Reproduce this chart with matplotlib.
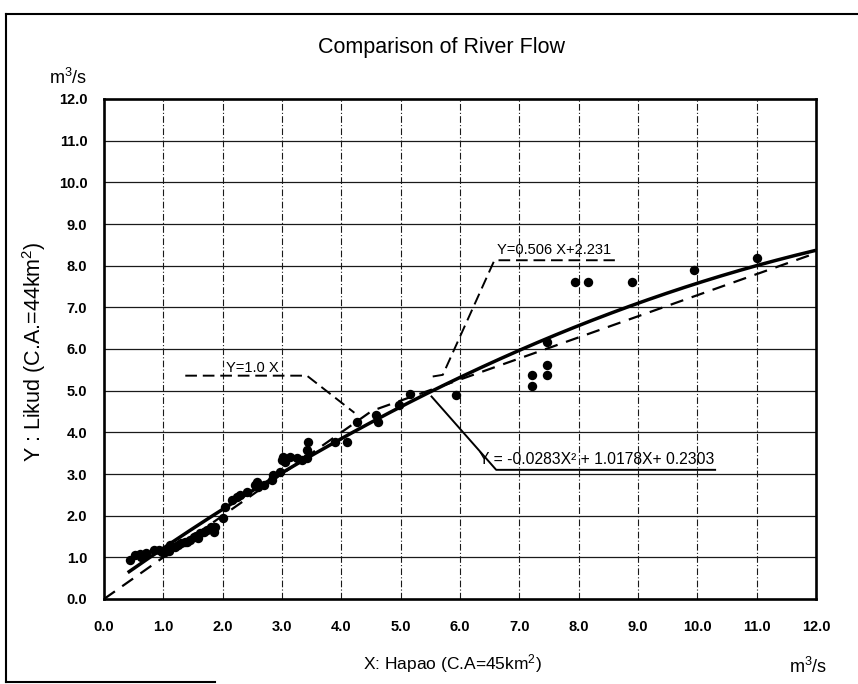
import matplotlib
matplotlib.use("Agg")
import matplotlib.pyplot as plt
import numpy as np
from matplotlib.lines import Line2D

# Observed discharge pairs (m3/s)
hapao = [0.43, 0.53, 0.61, 0.62, 0.70, 0.84, 0.92, 0.97, 1.03, 1.10, 1.12, 1.20,
         1.25, 1.29, 1.37, 1.40, 1.45, 1.51, 1.55, 1.59, 1.62, 1.68, 1.73, 1.80,
         1.85, 1.87, 2.01, 2.04, 2.15, 2.24, 2.30, 2.41, 2.55, 2.58, 2.60, 2.69,
         2.83, 2.85, 2.97, 3.00, 3.02, 3.05, 3.13, 3.25, 3.33, 3.42, 3.42, 3.43,
         3.89, 4.09, 4.26, 4.59, 4.62, 4.97, 5.15, 5.94, 7.22, 7.22, 7.46, 7.46,
         7.46, 7.94, 8.16, 8.90, 9.94, 11.00]
likud = [0.94, 1.06, 1.09, 1.02, 1.11, 1.17, 1.18, 1.12, 1.14, 1.16, 1.30, 1.26,
         1.30, 1.34, 1.38, 1.36, 1.42, 1.50, 1.52, 1.46, 1.58, 1.60, 1.66, 1.72,
         1.62, 1.74, 1.94, 2.22, 2.38, 2.46, 2.50, 2.58, 2.74, 2.82, 2.70, 2.74,
         2.86, 2.98, 3.06, 3.34, 3.42, 3.28, 3.42, 3.38, 3.34, 3.38, 3.58, 3.78,
         3.78, 3.78, 4.26, 4.42, 4.26, 4.66, 4.92, 4.90, 5.38, 5.12, 5.62, 5.38,
         6.18, 7.60, 7.60, 7.60, 7.89, 8.18]

ticks = list(range(0, 13))
tick_labels = [f"{t:.1f}" for t in ticks]

# Fitted relations
lin_slope, lin_icpt = 0.506, 2.231
q_a, q_b, q_c = -0.0283, 1.0178, 0.2303

plt.rcParams["font.family"] = ["Liberation Sans"]
plt.rcParams["mathtext.fontset"] = "custom"
plt.rcParams["mathtext.rm"] = "Liberation Sans"
plt.rcParams["mathtext.default"] = "regular"

W, H = 858, 684
fig = plt.figure(figsize=(W / 100, H / 100), dpi=100)


def fx(px):
    return px / W


def fy(py):
    return 1 - py / H


ax = fig.add_axes([fx(104), fy(599), fx(816) - fx(104), fy(99) - fy(599)])
ax.set_xlim(0, 12)
ax.set_ylim(0, 12)
ax.set_xticks(ticks)
ax.set_yticks(ticks)
ax.set_xticklabels(tick_labels, fontweight="bold", fontsize=10.5)
ax.set_yticklabels(tick_labels, fontweight="bold", fontsize=10.5)
ax.tick_params(axis="x", length=0, pad=15)
ax.tick_params(axis="y", length=0, pad=12)
for s in ax.spines.values():
    s.set_linewidth(1.9)
    s.set_color("black")

# grid: solid horizontals, dash-dot verticals
for t in ticks[1:-1]:
    ax.axhline(t, color="#1a1a1a", lw=0.9, zorder=1)
    ax.axvline(t, color="#1a1a1a", lw=0.8, ls=(0, (6, 2, 1, 2)), zorder=1)

# Y = X up to the crossing point, then the linear fit
x_cross = lin_icpt / (1 - lin_slope)
dash_x = [0, x_cross, 12]
dash_y = [0, x_cross, lin_slope * 12 + lin_icpt]
ax.plot(dash_x, dash_y, color="black", lw=1.6, ls=(0, (6, 4)), zorder=3)

# quadratic fit
xq = np.linspace(0.4, 12, 300)
yq = q_a * xq ** 2 + q_b * xq + q_c
ax.plot(xq, yq, color="black", lw=2.5, zorder=3, solid_capstyle="butt")

ax.scatter(hapao, likud, s=46, c="black", zorder=4, linewidths=0)

# annotation leaders
ax.plot([1.37, 3.42, 4.22], [5.36, 5.36, 4.47], color="black", lw=1.4,
        ls=(0, (6, 3)), zorder=3)
ax.text(2.50, 5.38, "Y=1.0 X", fontsize=10.5, ha="center", va="bottom", zorder=5)

ax.plot([5.54, 5.71, 6.58, 8.61], [5.34, 5.38, 8.13, 8.13], color="black", lw=1.4,
        ls=(0, (6, 3)), zorder=3)
ax.text(7.58, 8.20, "Y=0.506 X+2.231", fontsize=10.5, ha="center", va="bottom", zorder=5)

ax.plot([5.52, 6.61, 10.30], [4.86, 3.10, 3.10], color="black", lw=1.4, zorder=3)
ax.text(8.30, 3.17, "Y = -0.0283X² + 1.0178X+ 0.2303", fontsize=11.3, ha="center",
        va="bottom", zorder=5)

# titles and axis captions
fig.text(fx(441), fy(48), "Comparison of River Flow", fontsize=15.5, ha="center", va="center")
fig.text(fx(68), fy(78), "m$^3$/s", fontsize=13, ha="center", va="center")
fig.text(fx(808), fy(667), "m$^3$/s", fontsize=13, ha="center", va="center")
fig.text(fx(452), fy(664), "X: Hapao (C.A=45km$^2$)", fontsize=12.5, ha="center", va="center")
fig.text(fx(34), fy(352), "Y : Likud (C.A.=44km$^2$)", fontsize=15.5, rotation=90,
         ha="center", va="center")

# outer frame
fig.add_artist(Line2D([fx(6), fx(6)], [fy(14), fy(682)], color="black", lw=1.5))
fig.add_artist(Line2D([fx(6), 1.0], [fy(14), fy(14)], color="black", lw=1.5))
fig.add_artist(Line2D([fx(6), fx(215)], [fy(682), fy(682)], color="black", lw=1.5))

fig.savefig("out.png", dpi=100)
